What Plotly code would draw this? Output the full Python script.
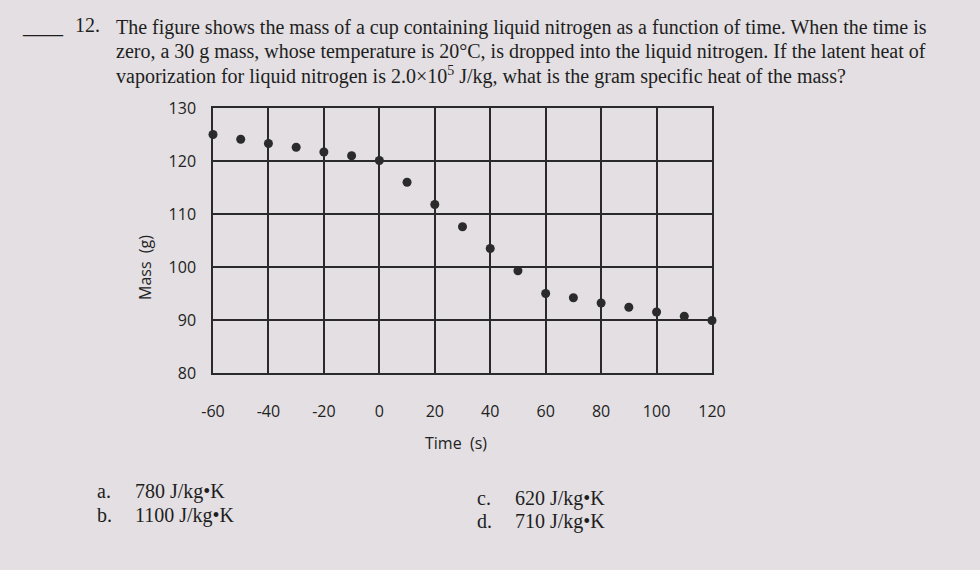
import plotly.graph_objects as go

time_s = [-60, -50, -40, -30, -20, -10, 0, 10, 20, 30, 40, 50, 60, 70, 80, 90, 100, 110, 120]
mass_g = [125.0, 124.1, 123.3, 122.6, 121.7, 121.0, 120.1, 116.0, 111.8, 107.6, 103.5, 99.3,
          95.0, 94.2, 93.2, 92.4, 91.5, 90.7, 89.9]
x_ticks = [-60, -40, -20, 0, 20, 40, 60, 80, 100, 120]
y_ticks = [80, 90, 100, 110, 120, 130]

question_lines = [
    "The figure shows the mass of a cup containing liquid nitrogen as a function of time. When the time is",
    "zero, a 30 g mass, whose temperature is 20°C, is dropped into the liquid nitrogen. If the latent heat of",
    "vaporization for liquid nitrogen is 2.0×10<sup>5</sup> J/kg, what is the gram specific heat of the mass?",
]
choices = [("a.", "780 J/kg•K"), ("b.", "1100 J/kg•K"), ("c.", "620 J/kg•K"), ("d.", "710 J/kg•K")]

W, H = 980, 570
L, R, T, B = 213, 268, 108, 197
PW, PH = W - L - R, H - T - B
BG = "#e3dfe2"
INK = "#2a2a2a"


def px(x):
    return (x - L) / PW


def py(y):
    return (H - B - y) / PH


fig = go.Figure()
fig.add_trace(go.Scatter(
    x=time_s, y=mass_g, mode="markers",
    marker=dict(size=9, color="#2b2b2b"),
    cliponaxis=False, showlegend=False,
))

axis_font = dict(family="Open Sans, Lato, sans-serif", size=16, color="#222")
fig.update_xaxes(
    range=[-60, 120], tickvals=x_ticks, ticktext=[str(v) for v in x_ticks],
    showgrid=True, gridcolor=INK, gridwidth=1.5, zeroline=False,
    showline=True, linecolor=INK, linewidth=1.5, mirror=True,
    ticks="", ticklabelstandoff=23, tickfont=axis_font,
)
fig.update_yaxes(
    range=[80, 130], tickvals=y_ticks, ticktext=[str(v) for v in y_ticks],
    showgrid=True, gridcolor=INK, gridwidth=1.5, zeroline=False,
    showline=True, linecolor=INK, linewidth=1.5, mirror=True,
    ticks="", ticklabelstandoff=12, tickfont=axis_font,
)

ann = []
title_font = dict(family="Open Sans, Lato, sans-serif", size=16, color="#222")
ann.append(dict(x=px(456), y=py(443), text="Time  (s)", showarrow=False, font=title_font,
                xanchor="center", yanchor="middle"))
ann.append(dict(x=px(145), y=py(268), text="Mass  (g)", showarrow=False, textangle=-90,
                font=title_font, xanchor="center", yanchor="middle"))

serif = dict(family="Liberation Serif, DejaVu Serif, serif", size=20, color="#1e1e1e")
ann.append(dict(x=px(20), y=py(26), text="____", showarrow=False, font=serif,
                xanchor="left", yanchor="middle"))
ann.append(dict(x=px(73), y=py(25), text="12.", showarrow=False, font=serif,
                xanchor="left", yanchor="middle"))
for i, line in enumerate(question_lines):
    ann.append(dict(x=px(114), y=py(27 + 24 * i), text=line, showarrow=False, font=serif,
                    xanchor="left", yanchor="middle"))

choice_pos = [(95, 491), (95, 515), (475, 498), (475, 521)]
for (lbl, txt), (cx, cy) in zip(choices, choice_pos):
    ann.append(dict(x=px(cx), y=py(cy), text=lbl, showarrow=False, font=serif,
                    xanchor="left", yanchor="middle"))
    ann.append(dict(x=px(cx + 38), y=py(cy), text=txt, showarrow=False, font=serif,
                    xanchor="left", yanchor="middle"))

for a in ann:
    a["xref"] = "paper"
    a["yref"] = "paper"

fig.update_layout(
    width=W, height=H,
    margin=dict(l=L, r=R, t=T, b=B, autoexpand=False),
    paper_bgcolor=BG, plot_bgcolor=BG,
    annotations=ann,
)

fig.write_html(
    "out.html",
    config={"displayModeBar": False},
    post_script="document.body.style.margin='0';document.body.style.overflow='hidden';"
                "document.body.style.background='" + BG + "';",
)
